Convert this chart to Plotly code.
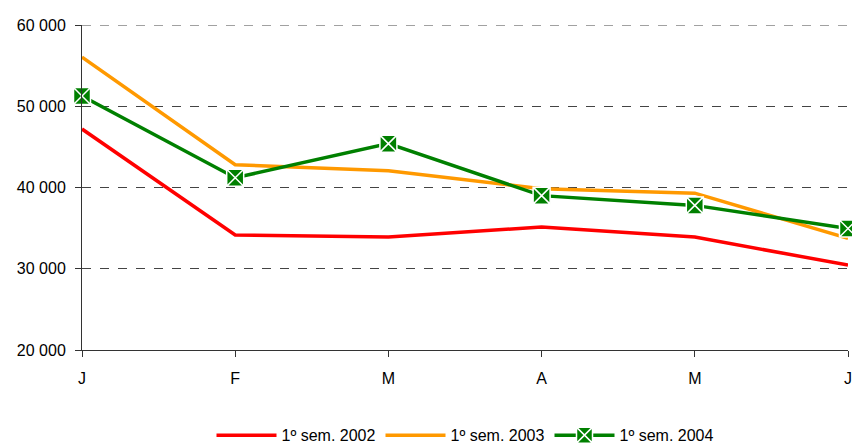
import plotly.graph_objects as go

months = ["J", "F", "M", "A", "M", "J"]
s2002 = [47200, 34150, 33900, 35150, 33900, 30450]
s2003 = [56050, 42800, 42050, 39850, 39300, 33750]
s2004 = [51250, 41200, 45400, 39000, 37800, 34950]
names = ["1º sem. 2002", "1º sem. 2003", "1º sem. 2004"]
yticks = [20000, 30000, 40000, 50000, 60000]

x = list(range(len(months)))
fig = go.Figure()
fig.add_trace(go.Scatter(x=x, y=s2002, name=names[0], mode="lines",
                         line=dict(color="#FF0000", width=3.5)))
fig.add_trace(go.Scatter(x=x, y=s2003, name=names[1], mode="lines",
                         line=dict(color="#FF9900", width=3.5)))
fig.add_trace(go.Scatter(x=x, y=s2004, name=names[2], mode="lines+markers",
                         line=dict(color="#008000", width=3.5),
                         marker=dict(symbol="square-x", size=17, color="#008000",
                                     line=dict(color="white", width=1.5))))

fig.update_layout(
    width=852, height=443,
    margin=dict(l=82, r=4, t=25, b=93, autoexpand=False),
    plot_bgcolor="white", paper_bgcolor="white",
    separators=", ",
    font=dict(family="Liberation Sans, Arial, sans-serif", size=16, color="black"),
    legend=dict(orientation="h", x=0.5, xanchor="center", y=-0.21, yanchor="top",
                font=dict(size=16), itemwidth=60, tracegroupgap=0),
    showlegend=True,
)
# top dashed gridline at the axis maximum
fig.add_shape(type="line", xref="x domain", yref="y", x0=0, x1=1,
              y0=yticks[-1], y1=yticks[-1],
              line=dict(color="#444", width=1, dash="dash"), layer="below")
fig.update_xaxes(range=[0, 5], tickvals=x, ticktext=months, showgrid=False,
                 showline=True, linecolor="#333", linewidth=1, automargin=False,
                 ticklabeloverflow="allow", ticklabelstandoff=8,
                 ticks="outside", ticklen=6, tickcolor="#333", zeroline=False)
fig.update_yaxes(range=[20000, 60000], tickvals=yticks, tickformat=",d",
                 showgrid=True, gridcolor="#444", griddash="dash", gridwidth=1,
                 showline=True, linecolor="#333", linewidth=1, automargin=False,
                 ticklabelstandoff=6,
                 ticks="outside", ticklen=6, tickcolor="#333", zeroline=False)
fig.update_traces(cliponaxis=False)
fig.write_html("out.html", config={"displayModeBar": False},
               post_script="document.body.style.margin='0';document.body.style.overflow='hidden';")
